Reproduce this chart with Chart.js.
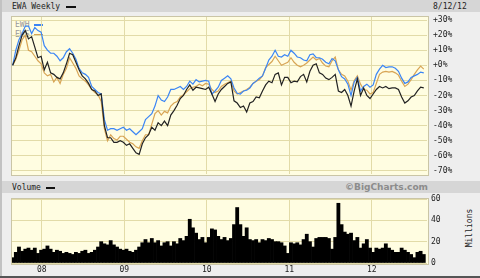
<!DOCTYPE html>
<html>
<head>
<meta charset="utf-8">
<script src="https://cdn.jsdelivr.net/npm/chart.js@4/dist/chart.umd.min.js"></script>
<style>
    body { margin: 0; width: 480px; height: 278px; overflow: hidden; background: #eeeeee; position: relative; font-family: "DejaVu Sans Mono", monospace; }
    .abs { position: absolute; }
    .txt { position: absolute; font-size: 8px; line-height: 8px; color: #222; white-space: nowrap; }
    .band { position: absolute; left: 0; width: 480px; height: 12px; background: #d6d6d6; }
    .plot { position: absolute; background: #fffde1; border: 1px solid #cac5a6; }
    canvas { position: absolute; left: 0; }
</style>
</head>
<body>
<div class="band" style="top:0"></div>
<div class="band" style="top:181px"></div>
<div class="abs" style="left:0;top:0;width:2px;height:278px;background:#c2c2c2"></div>
<div class="abs" style="left:0;top:276px;width:480px;height:2px;background:#555"></div>

<div class="plot" style="left:11px;top:16px;width:416px;height:158px"></div>
<div class="plot" style="left:11px;top:198px;width:416px;height:65px"></div>

<div class="txt" style="left:12px;top:3px">EWA Weekly</div>
<div class="abs" style="left:66px;top:6px;width:10px;height:2px;background:#111"></div>
<div class="txt" style="left:433px;top:3px">8/12/12</div>
<div class="txt" style="left:12px;top:184px">Volume</div>
<div class="abs" style="left:46px;top:187px;width:9px;height:2px;background:#111"></div>
<div class="txt" style="right:52px;top:183px;font-family:'DejaVu Sans',sans-serif;font-weight:bold;font-size:9px;line-height:9px;color:#8c8c8c">©BigCharts.com</div>
<div class="txt" style="left:450px;top:224px;width:40px;text-align:center;transform:rotate(-90deg)">Millions</div>

<div id="legend"></div>

<canvas id="priceChart" width="480" height="188" style="top:0"></canvas>
<canvas id="volChart" width="480" height="93" style="top:185px"></canvas>

<script>
// weekly chart, sampled every two weeks, starting late Aug 2007
const startYear = 2007.648;
const stepYears = 14 / 365.25;

const years = [2008, 2009, 2010, 2011, 2012];
const yearLabels = ["08", "09", "10", "11", "12"];
const pctTicks = [30, 20, 10, 0, -10, -20, -30, -40, -50, -60, -70];
const volTicks = [0, 20, 40, 60];

const seriesNames = ["EWA", "EWH", "EWS"];
const seriesColors = ["#222222", "#3a85f5", "#d8a555"];

// % change since start
const ewa = [0,5,13,20,23,17.5,19,12,5,6,
    -3,2,-5,-6,-8,-9,-5,1,8,7,
    2,-3,-7,-9,-12,-16,-17,-20,-19,-40,
    -48,-48,-51,-51,-50,-51,-53,-52,-55,-58,
    -59,-52,-48,-46,-41,-43,-38,-40,-37,-40,
    -33,-30,-26.5,-22,-20,-16,-13,-16.5,-14.5,-15,
    -15.5,-16,-14.5,-19,-24,-19,-16,-14,-12,-11,
    -23.5,-25,-28,-27,-31,-25,-24,-21,-21.5,-17,
    -13,-10.5,-11.5,-6,-5,-13,-8,-8,-11.5,-10.5,
    -11,-7.5,-6,-11,-4,0,1,-5,-6,-8.5,
    -9.5,-8,-6,-17,-18,-16,-20,-27,-17,-9,
    -20,-15,-20,-22,-19,-16,-14,-15,-14,-15.5,
    -15,-15,-16,-21,-25,-23.5,-21,-20,-17,-14.5,-15];

const ewh = [0,10,17,21,26,26,21,25,23,22,
    13,10,8,8,6,3,5,9,11,8,
    4,-2,-5,-6,-8,-14,-16,-18,-19,-36,
    -43,-42,-42,-43,-42,-41,-43,-42,-44,-46,
    -44,-42,-36,-34,-32,-27,-20,-23,-24,-21,
    -16,-16,-15,-14,-16,-14,-10.5,-12.5,-9.5,-11,
    -10.5,-10,-10.5,-19,-17,-14.5,-10,-8.5,-7,-9,
    -15,-18.5,-19,-17,-16.5,-15,-12,-10.5,-8.5,-7,
    -2,3.5,6,10,6,5.5,7,6,10,8,
    5.5,5,3.5,3,7,7.5,5,5,4,2,
    1,4.5,3,-3,-7.5,-9,-12.5,-20,-11,-8,
    -17,-14,-12.5,-14.5,-13,-6,-2.5,0,-1.5,-1,
    -1,-2,-4,-8.5,-12,-11,-8,-7,-6,-4.5,-5];

const ews = [0,4,10,17,20,10,9,6,3,1,
    -5,-7,-6,-11,-8,-12,-6,-2,5,1.5,
    -2,-7,-9,-10.5,-13,-16,-18,-19.5,-24,-42,
    -50,-46,-48.5,-49.5,-47,-47,-49,-51,-52,-54,
    -55,-50,-46,-46,-39,-32,-30,-33,-30.5,-31.5,
    -27,-25,-24,-21,-19.5,-17.5,-15.5,-14.5,-14,-12.5,
    -13.5,-12,-12.5,-16,-18,-17,-14,-12.5,-11.5,-10.5,
    -17,-19,-18,-17,-16,-14.5,-12,-10.5,-9.5,-7,
    -1.5,0.5,2.5,6,3,0,1,2,5,2,
    0,-1,0,1.5,3.5,5.5,3.5,4.5,1.5,-0.5,
    -1,3,5.5,-3,-6,-7,-10.5,-16.5,-10,-7,
    -12.5,-16,-16.5,-19,-18,-12,-6,-4.5,-4,-4.5,
    -4,-5,-6.5,-10.5,-14,-12.5,-9.5,-6,-3,-0.5,-2.5];

// volume, millions
const volume = [5,10,15,11,13,14,12,14,9,12,
    13,16,13,10,12,11,9,10,9,8,
    10,9,11,12,9,10,12,15,20,18,
    17,21,17,15,13,12,13,11,10,12,
    15,19,22,19,23,19,21,16,19,20,
    16,20,18,23,21,25,41,33,28,22,
    24,19,24,32,31,25,22,24,21,23,
    36,52,36,25,33,22,21,22,19,22,
    21,23,22,20,20,19,16,9,19,18,
    19,17,22,27,20,15,23,24,24,24,
    23,13,24,56,36,29,27,28,21,24,
    14,18,22,14,10,14,13,14,18,14,
    12,10,10,14,12,10,8,5,10,11,8];

const mono = "DejaVu Sans Mono";
const gridCol = "#e2dba8";

function pts(arr) {
    return arr.map((v, i) => ({ x: startYear + i * stepYears, y: v }));
}

// legend for the two comparison symbols
const legend = document.getElementById("legend");
[1, 2].forEach((k, n) => {
    const top = 21 + n * 10;
    legend.innerHTML += `<div class="txt" style="left:15px;top:${top}px;color:#9a9a9a">${seriesNames[k]}</div>` +
        `<div class="abs" style="left:34px;top:${top + 3}px;width:9px;height:2px;background:${seriesColors[k]}"></div>`;
});

function xScale(showLabels) {
    return {
        type: "linear",
        min: 2007.64,
        max: 2012.67,
        offset: false,
        afterBuildTicks: s => { s.ticks = years.map(v => ({ value: v })); },
        ticks: {
            display: showLabels,
            autoSkip: false,
            maxRotation: 0,
            padding: 2,
            color: "#222",
            font: { family: mono, size: 8 },
            callback: v => yearLabels[years.indexOf(v)]
        },
        grid: { color: gridCol, drawTicks: false, offset: false },
        border: { display: false },
        afterFit: s => { s.height = showLabels ? 14 : 0; }
    };
}

new Chart(document.getElementById("priceChart"), {
    type: "line",
    data: {
        datasets: [ewa, ewh, ews].map((arr, k) => ({
            label: seriesNames[k],
            data: pts(arr),
            borderColor: seriesColors[k],
            borderWidth: 1.2,
            pointRadius: 0,
            tension: 0
        }))
    },
    options: {
        responsive: false,
        animation: false,
        layout: { padding: { left: 12, top: 17, right: 0, bottom: 14 } },
        plugins: { legend: { display: false }, tooltip: { enabled: false } },
        scales: {
            x: xScale(false),
            y: {
                position: "right",
                min: -72,
                max: 32,
                afterBuildTicks: s => { s.ticks = pctTicks.map(v => ({ value: v })); },
                ticks: {
                    padding: 6,
                    color: "#222",
                    font: { family: mono, size: 8 },
                    callback: v => (v >= 0 ? "+" : "") + v + "%"
                },
                grid: { color: gridCol, drawTicks: false },
                border: { display: false },
                afterFit: s => { s.width = 53; }
            }
        }
    }
});

new Chart(document.getElementById("volChart"), {
    type: "bar",
    data: {
        datasets: [{
            label: "Volume",
            data: pts(volume),
            backgroundColor: "#000",
            borderWidth: 0,
            barPercentage: 1,
            categoryPercentage: 1
        }]
    },
    options: {
        responsive: false,
        animation: false,
        layout: { padding: { left: 12, top: 14, right: 0, bottom: 1 } },
        plugins: { legend: { display: false }, tooltip: { enabled: false } },
        scales: {
            x: xScale(true),
            y: {
                position: "right",
                min: 0,
                max: 60,
                afterBuildTicks: s => { s.ticks = volTicks.map(v => ({ value: v })); },
                ticks: { padding: 4, color: "#222", font: { family: mono, size: 8 } },
                grid: { color: gridCol, drawTicks: false },
                border: { display: false },
                afterFit: s => { s.width = 53; }
            }
        }
    }
});
</script>
</body>
</html>
